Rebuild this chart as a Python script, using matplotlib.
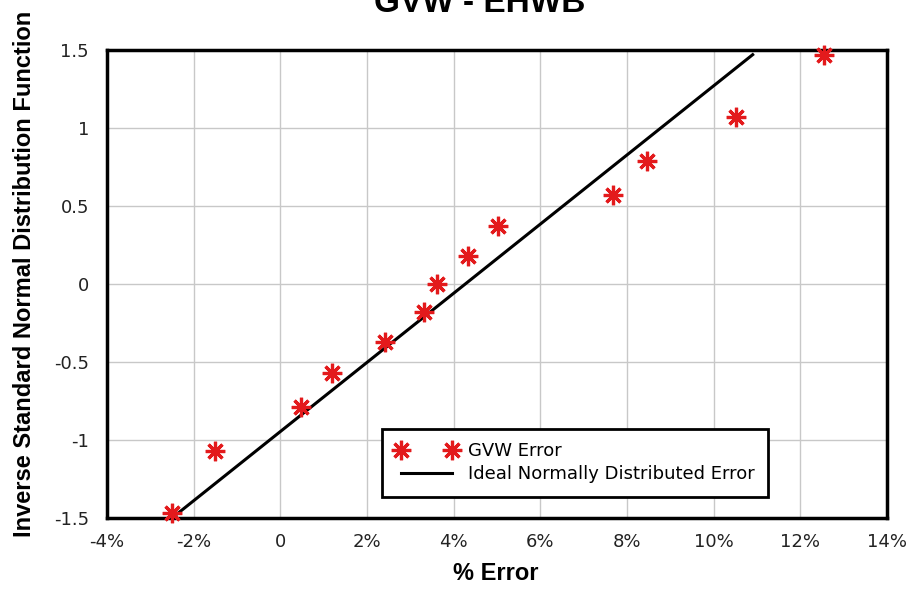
import matplotlib.pyplot as plt
import matplotlib.ticker as mticker

plt.rcParams['font.family'] = ['Liberation Sans', 'DejaVu Sans']

# % error of each sample, sorted, and its inverse normal quantile
err_pct = [-2.5, -1.5, 0.48, 1.2, 2.42, 3.32, 3.62, 4.34, 5.03, 7.68, 8.47, 10.52, 12.55]
z_score = [-1.47, -1.07, -0.79, -0.57, -0.37, -0.18, 0.0, 0.18, 0.37, 0.57, 0.79, 1.07, 1.47]

# ideal normal line end points
ideal_x = [-2.5, 10.9]
ideal_y = [-1.5, 1.47]

x_ticks = [-4, -2, 0, 2, 4, 6, 8, 10, 12, 14]
y_ticks = [-1.5, -1, -0.5, 0, 0.5, 1, 1.5]

fig = plt.figure(figsize=(9.12, 5.91), dpi=100)
ax = fig.add_axes([0.1173, 0.1235, 0.8553, 0.7919])

ax.plot(err_pct, z_score, linestyle='none', marker=(8, 2, 0), markersize=14,
        markeredgewidth=2.3, color='#e31a1c', label='GVW Error', zorder=3, clip_on=False)
ax.plot(ideal_x, ideal_y, color='black', lw=2.2, label='Ideal Normally Distributed Error')

ax.set_xlim(-4, 14)
ax.set_ylim(-1.5, 1.5)
ax.set_xticks(x_ticks)
ax.set_yticks(y_ticks)
ax.xaxis.set_major_formatter(mticker.FuncFormatter(lambda v, p: '0' if v == 0 else '%d%%' % v))
ax.yaxis.set_major_formatter(mticker.FuncFormatter(lambda v, p: '%g' % v))
ax.tick_params(length=0, labelsize=13, colors='#222222', labelfontfamily='DejaVu Sans')
ax.tick_params(axis='x', pad=11)
ax.tick_params(axis='y', pad=13)
ax.grid(True, color='#c8c8c8', lw=1)
ax.set_axisbelow(True)
for s in ax.spines.values():
    s.set_linewidth(2.5)
    s.set_color('black')

leg = ax.legend(loc='lower left', bbox_to_anchor=(0.3526, 0.045), numpoints=2,
                fancybox=False, framealpha=1, edgecolor='black',
                prop={'family': 'DejaVu Sans', 'size': 13},
                borderpad=0.75, handlelength=3.4, handletextpad=0.6,
                labelspacing=0.28, borderaxespad=0)
leg.get_frame().set_linewidth(2)

fig.text(0.526, 0.98, 'GVW - EHWB', ha='center', va='baseline', fontsize=24, fontweight='bold')
fig.text(0.027, 0.536, 'Inverse Standard Normal Distribution Function', rotation=90,
         ha='center', va='center', fontsize=17, fontweight='bold')
fig.text(0.544, 0.03, '% Error', ha='center', va='center', fontsize=17, fontweight='bold')

fig.savefig('out.png', dpi=100)
